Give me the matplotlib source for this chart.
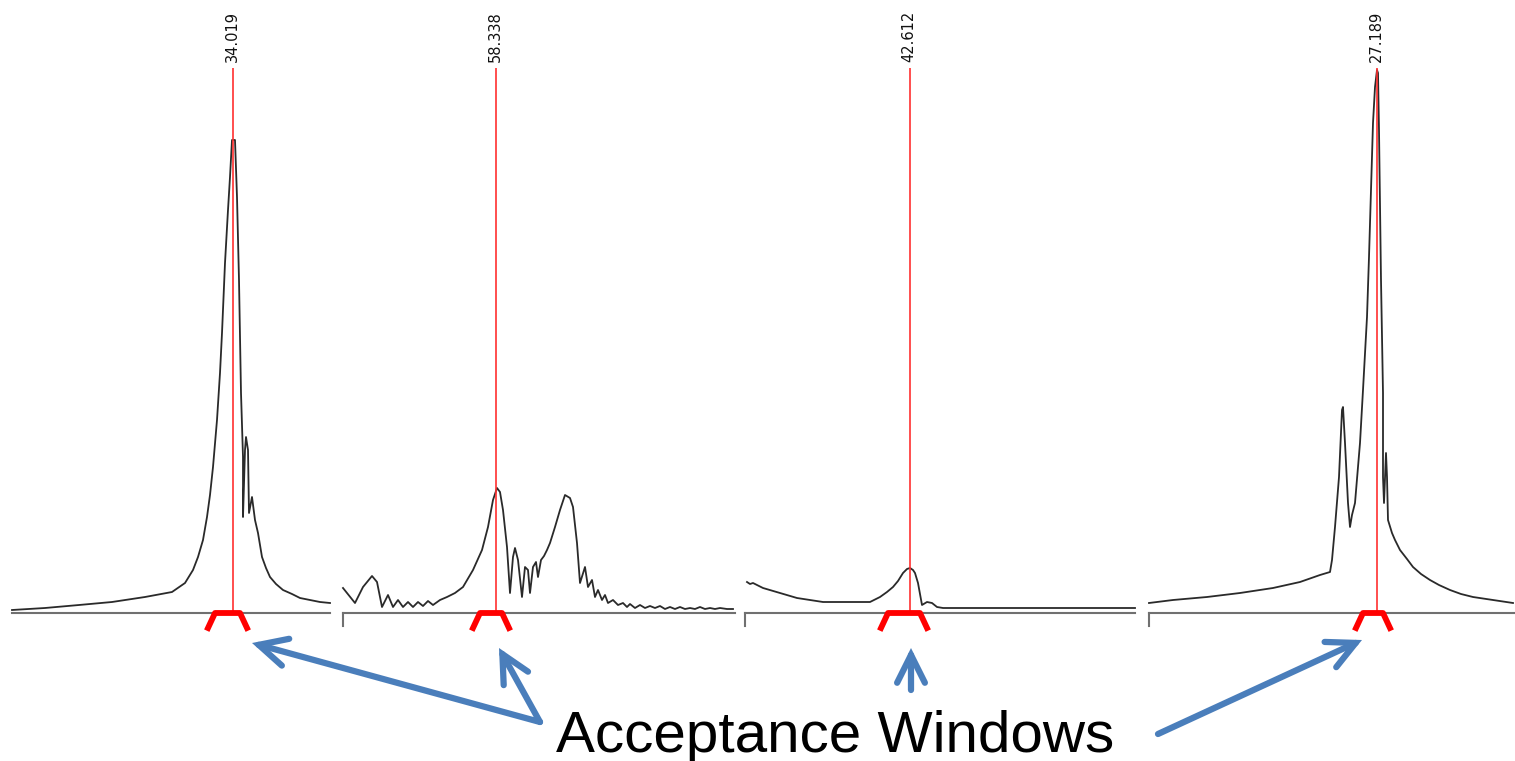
import matplotlib
matplotlib.use("Agg")
import matplotlib.pyplot as plt
from matplotlib.patches import FancyArrowPatch

# peak labels (red marker position) for the four spectra
peak_labels = [34.019, 58.338, 42.612, 27.189]
peak_pos = [221, 153, 165, 228]

# acceptance windows (channel offsets inside each panel)
window_lo = [203, 137, 143, 214]
window_hi = [228, 159, 175, 234]

# spectra: channel offset / intensity
spec1_x = [0, 33, 67, 100, 133, 160, 173, 181, 186, 191, 195, 198, 201, 205, 208, 210,
           213, 216, 218, 220, 223, 225, 227, 229, 231, 231, 233, 234, 236, 237, 240,
           243, 246, 250, 254, 258, 264, 271, 280, 288, 298, 308, 318]
spec1_y = [3, 5, 8, 11, 16, 21, 30, 43, 56, 73, 96, 118, 146, 193, 240, 280,
           350, 403, 436, 473, 473, 416, 333, 220, 156, 96, 163, 176, 163, 100, 116,
           93, 80, 56, 45, 36, 29, 23, 19, 15, 13, 11, 10]

spec2_x = [0, 12, 20, 29, 34, 39, 45, 50, 55, 60, 65, 70, 75, 80, 85, 90, 97, 104, 112,
           120, 130, 139, 145, 150, 154, 157, 160, 164, 167, 170, 172, 175, 179, 182,
           185, 187, 190, 193, 195, 198, 201, 204, 207, 212, 217, 222, 227, 230, 234,
           237, 242, 245, 249, 252, 255, 259, 262, 265, 270, 275, 280, 284, 287, 292,
           297, 302, 307, 312, 317, 322, 327, 332, 337, 342, 347, 352, 357, 362, 367,
           372, 377, 384, 390]
spec2_y = [25, 10, 26, 37, 31, 6, 18, 6, 13, 6, 11, 6, 11, 7, 12, 8, 13, 16, 20,
           26, 43, 63, 86, 113, 125, 121, 103, 66, 20, 56, 65, 53, 16, 46,
           43, 20, 46, 51, 36, 53, 57, 63, 70, 86, 103, 118, 115, 106, 70,
           30, 46, 26, 33, 16, 23, 13, 18, 10, 13, 8, 10, 6, 9, 5,
           8, 5, 7, 5, 7, 4, 6, 4, 6, 4, 5, 4, 6, 4, 5,
           4, 5, 4, 4]

spec3_x = [2, 5, 8, 18, 35, 52, 78, 125, 135, 142, 148, 153, 158, 162, 165, 168, 170,
           173, 177, 182, 187, 192, 198, 390]
spec3_y = [31, 29, 30, 25, 20, 15, 11, 11, 16, 21, 26, 32, 40, 44, 45, 43, 40,
           30, 8, 11, 10, 6, 5, 5]

spec4_x = [0, 24, 58, 91, 124, 151, 171, 181, 183, 186, 190, 193, 194, 196, 199, 201,
           203, 206, 211, 214, 218, 220, 222, 224, 226, 228, 229, 230, 232, 234, 234,
           235, 237, 238, 239, 243, 246, 251, 258, 264, 272, 281, 290, 301, 312, 324,
           344, 364]
spec4_y = [10, 13, 16, 20, 25, 31, 38, 41, 53, 86, 136, 203, 206, 170, 110, 86,
           98, 110, 170, 223, 296, 356, 423, 490, 526, 543, 540, 483, 333, 220, 136,
           110, 160, 136, 93, 80, 73, 63, 54, 46, 39, 33, 28, 23, 19, 16,
           13, 10]

spectra = [(spec1_x, spec1_y), (spec2_x, spec2_y), (spec3_x, spec3_y), (spec4_x, spec4_y)]

# panel placement in pixels (left, width) and whether a left tick is drawn
W, H = 1515, 761
base_px = 613
panels = [(12, 318, False), (343, 392, True), (745, 390, True), (1149, 366, True)]

fig = plt.figure(figsize=(W / 100, H / 100), dpi=100)
fig.patch.set_facecolor("white")

for i, (left, width, tick) in enumerate(panels):
    ax = fig.add_axes([left / W, 0, width / W, 1])
    ax.set_xlim(0, width)
    ax.set_ylim(base_px - H, base_px)
    ax.axis("off")

    x, y = spectra[i]
    ax.plot(x, y, color="#2a2a2a", lw=1.3, zorder=3, clip_on=False)

    # axis line
    ax.plot([0, width], [0, 0], color="#707070", lw=1.5, zorder=2, clip_on=False)
    if tick:
        ax.plot([0, 0], [0, -13], color="#707070", lw=1.5, zorder=2, clip_on=False)

    # red marker line + label
    c = peak_pos[i]
    ax.vlines(c, 0, 545, color="#ff3030", lw=1.2, zorder=4)
    ax.text(c - 1, 551, "%.3f" % peak_labels[i], rotation=90, ha="center",
            va="bottom", fontsize=10.5, color="#111111")

    # acceptance window bracket
    lo, hi = window_lo[i], window_hi[i]
    ax.plot([lo - 7, lo, hi, hi + 7], [-15, 0, 0, -15], color="#ff0000", lw=4.2,
            solid_joinstyle="round", zorder=5, clip_on=False)

# overlay for annotation text and arrows
ov = fig.add_axes([0, 0, 1, 1], facecolor="none")
ov.set_xlim(0, W)
ov.set_ylim(H, 0)
ov.axis("off")

ov.text(556, 752, "Acceptance Windows", fontsize=42, family="Liberation Sans",
        ha="left", va="baseline", color="black")

arrows = [((540, 722), (252, 643)),
          ((540, 722), (499, 648)),
          ((911, 690), (911, 648)),
          ((1158, 734), (1362, 640))]
for tail, tip in arrows:
    ov.add_patch(FancyArrowPatch(tail, tip, arrowstyle="->,head_length=1.0,head_width=0.5",
                                 mutation_scale=20, lw=4.5, color="#4a7ebb",
                                 shrinkA=0, shrinkB=0, joinstyle="miter"))

fig.savefig("out.png", dpi=100, facecolor="white")
